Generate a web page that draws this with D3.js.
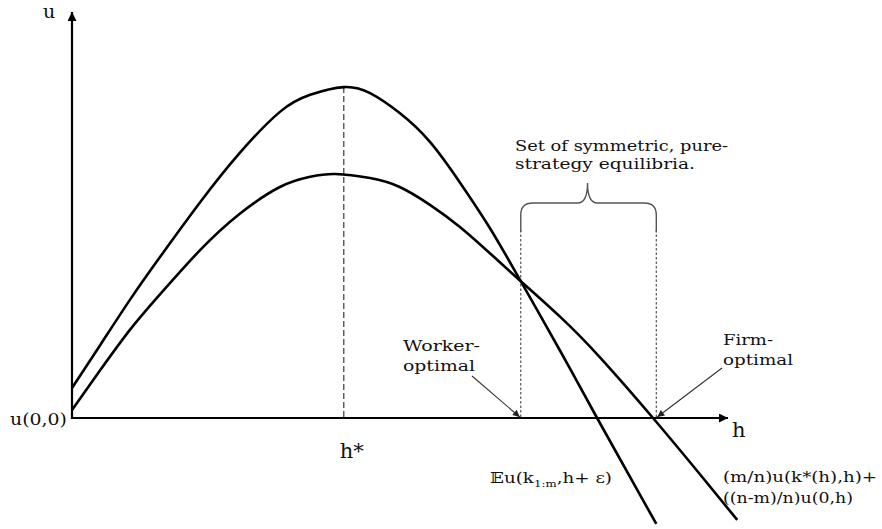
<!DOCTYPE html>
<html>
<head>
<meta charset="utf-8">
<script src="https://cdn.jsdelivr.net/npm/d3@7"></script>
<style>
  body { margin: 0; background: #fff; }
  svg { display: block; }
  text { font-family: "DejaVu Serif", serif; fill: #111; }
</style>
</head>
<body>
<svg width="882" height="529"></svg>
<script>
// values (h and u in arbitrary units, 0..100)
var hEu  = [0, 4.3, 8.8, 13.4, 19.5, 25.5, 31.6, 36.2, 41.3, 45.3, 49.8, 54.4, 59, 63.5, 68.2, 74.2, 79.8, 88.8];
var uEu  = [7.4, 18, 29.1, 39.7, 53.2, 65.3, 75.4, 79.6, 81.5, 80, 75.1, 68, 57.9, 46.8, 33.7, 16.5, 0, -26.1];
var hMix = [0, 4.3, 8.8, 13.4, 19.5, 25.5, 31.6, 36.2, 40, 45.3, 49.8, 54.4, 59, 63.5, 68.2, 74.2, 80.2, 88.3, 95.4, 101.1];
var uMix = [2, 11.8, 21.7, 30.5, 41.4, 50.3, 56.9, 59.4, 60.1, 59.1, 56.9, 52.5, 47, 40.6, 33.7, 24.9, 15, 0, -13.8, -25.1];

var hStar = 41.3, uStar = 81.5;
var hWorker = 68.2, hFirm = 88.8;

var svg = d3.select("svg"),
    width = +svg.attr("width"),
    height = +svg.attr("height");

var x = d3.scaleLinear().domain([0, 100]).range([72, 730]);
var y = d3.scaleLinear().domain([0, 100]).range([418, 12]);

var defs = svg.append("defs");
defs.append("marker")
    .attr("id", "axisHead")
    .attr("viewBox", "0 0 10 10")
    .attr("refX", 10).attr("refY", 5)
    .attr("markerWidth", 11).attr("markerHeight", 9)
    .attr("markerUnits", "userSpaceOnUse")
    .attr("orient", "auto")
  .append("path").attr("d", "M0,0L10,5L0,10Z").attr("fill", "#000");
defs.append("marker")
    .attr("id", "noteHead")
    .attr("viewBox", "0 0 10 10")
    .attr("refX", 10).attr("refY", 5)
    .attr("markerWidth", 9).attr("markerHeight", 7)
    .attr("markerUnits", "userSpaceOnUse")
    .attr("orient", "auto")
  .append("path").attr("d", "M0,0L10,5L0,10Z").attr("fill", "#222");

// guide lines
svg.append("line")
    .attr("x1", x(hStar)).attr("x2", x(hStar))
    .attr("y1", y(uStar)).attr("y2", y(0))
    .attr("stroke", "#555").attr("stroke-width", 1.4)
    .attr("stroke-dasharray", "6,3");

[hWorker, hFirm].forEach(function(h) {
    svg.append("line")
        .attr("x1", x(h)).attr("x2", x(h))
        .attr("y1", 230).attr("y2", y(0))
        .attr("stroke", "#555").attr("stroke-width", 1.2)
        .attr("stroke-dasharray", "2.5,2");
});

// axes
svg.append("line")
    .attr("x1", x(0)).attr("y1", y(0) + 1).attr("x2", x(0)).attr("y2", y(100))
    .attr("stroke", "#000").attr("stroke-width", 2.2)
    .attr("marker-end", "url(#axisHead)");
svg.append("line")
    .attr("x1", x(0) - 1).attr("y1", y(0)).attr("x2", x(100) - 2).attr("y2", y(0))
    .attr("stroke", "#000").attr("stroke-width", 2.2)
    .attr("marker-end", "url(#axisHead)");

// curves
var line = d3.line()
    .x(function(d) { return x(d[0]); })
    .y(function(d) { return y(d[1]); })
    .curve(d3.curveNatural);

svg.append("path")
    .datum(d3.zip(hEu, uEu))
    .attr("d", line)
    .attr("fill", "none").attr("stroke", "#000").attr("stroke-width", 2.6);
svg.append("path")
    .datum(d3.zip(hMix, uMix))
    .attr("d", line)
    .attr("fill", "none").attr("stroke", "#000").attr("stroke-width", 2.6);

// brace over the equilibrium set
var bl = x(hWorker), br = x(hFirm), bm = (bl + br) / 2 - 1, by = 203;
var brace = d3.path();
brace.moveTo(bl, 232);
brace.lineTo(bl, by + 12);
brace.quadraticCurveTo(bl, by, bl + 12, by);
brace.lineTo(bm - 10, by);
brace.quadraticCurveTo(bm, by, bm, by - 20);
brace.quadraticCurveTo(bm, by, bm + 10, by);
brace.lineTo(br - 12, by);
brace.quadraticCurveTo(br, by, br, by + 12);
brace.lineTo(br, 232);
svg.append("path").attr("d", brace.toString())
    .attr("fill", "none").attr("stroke", "#555").attr("stroke-width", 1.4);

// annotation arrows
svg.append("line")
    .attr("x1", 472).attr("y1", 376).attr("x2", x(hWorker) - 1).attr("y2", y(0) - 1)
    .attr("stroke", "#333").attr("stroke-width", 1.1)
    .attr("marker-end", "url(#noteHead)");
svg.append("line")
    .attr("x1", 722).attr("y1", 368).attr("x2", x(hFirm) + 1).attr("y2", y(0) - 1)
    .attr("stroke", "#333").attr("stroke-width", 1.1)
    .attr("marker-end", "url(#noteHead)");

// labels
svg.append("text").attr("x", 43).attr("y", 18).style("font-size", "19px").text("u");
svg.append("text").attr("x", 732).attr("y", 437).style("font-size", "21px").text("h");
svg.append("text").attr("x", 10).attr("y", 425)
    .attr("textLength", 57).attr("lengthAdjust", "spacingAndGlyphs")
    .style("font-size", "17px").text("u(0,0)");
svg.append("text").attr("x", x(hStar) + 8).attr("y", 458).attr("text-anchor", "middle")
    .style("font-size", "21px").text("h*");

// multi-line notes; widths
function block(x0, y0, lines, widths, size, gap) {
    lines.forEach(function(s, i) {
        svg.append("text")
            .attr("x", x0).attr("y", y0 + i * gap)
            .attr("textLength", widths[i]).attr("lengthAdjust", "spacingAndGlyphs")
            .style("font-size", size + "px").text(s);
    });
}
block(515, 151, ["Set of symmetric, pure-", "strategy equilibria."], [213, 180], 15.5, 18);
block(403, 351, ["Worker-", "optimal"], [77, 72], 15.5, 20);
block(723, 345, ["Firm-", "optimal"], [50, 70], 15.5, 20);
block(723, 482, ["(m/n)u(k*(h),h)+", "((n-m)/n)u(0,h)"], [154, 130], 15.5, 21);

var eu = svg.append("text").attr("x", 490).attr("y", 483)
    .attr("textLength", 122).attr("lengthAdjust", "spacingAndGlyphs")
    .style("font-size", "15.5px");
eu.append("tspan").text("\uD835\uDD3Cu(k");
eu.append("tspan").attr("dy", 4).style("font-size", "10px").text("1:m");
eu.append("tspan").attr("dy", -4).text(",h+ \u03B5)");
</script>
</body>
</html>
